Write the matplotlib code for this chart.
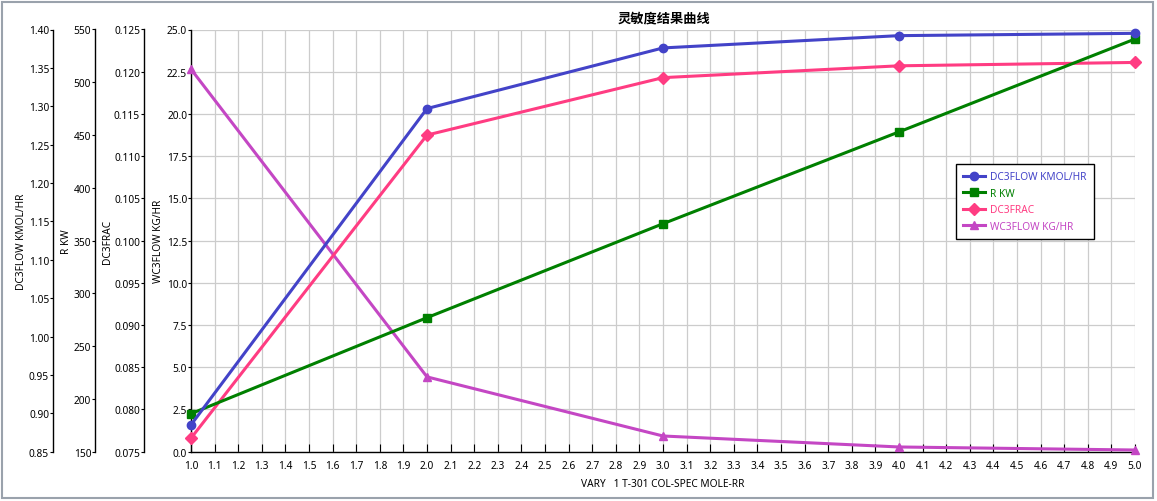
import matplotlib
matplotlib.use("Agg")
import matplotlib.pyplot as plt
import numpy as np
from matplotlib.patches import Rectangle

plt.rcParams['font.family'] = ['Noto Sans', 'Noto Sans CJK SC', 'DejaVu Sans']

# ---- data ----
x_vals = [1.0, 2.0, 3.0, 4.0, 5.0]
dc3flow = [0.885, 1.297, 1.376, 1.392, 1.395]      # KMOL/HR
r_kw = [186, 277, 366, 453, 541]                    # KW
dc3frac = [0.0766, 0.1125, 0.1193, 0.1207, 0.1211]
wc3flow = [22.65, 4.43, 0.93, 0.28, 0.10]           # KG/HR

title = "灵敏度结果曲线"
xlabel = "VARY   1 T-301 COL-SPEC MOLE-RR"
labels = ["DC3FLOW KMOL/HR", "R KW", "DC3FRAC", "WC3FLOW KG/HR"]
colors = ["#4343C8", "#008000", "#FF3C82", "#C447C4"]
markers = ["o", "s", "D", "^"]

W, H = 1157, 502
fig = plt.figure(figsize=(W / 100, H / 100), dpi=100)
fig.patch.set_facecolor("white")

left_px, right_px, top_px, bot_px = 191, 1135, 30.5, 452.7
rect = [left_px / W, 1 - bot_px / H, (right_px - left_px) / W, (bot_px - top_px) / H]
ax = fig.add_axes(rect)
span = right_px - left_px

fs = 7.3
tick_len, tick_pad = 2.2, 0.6
# main axis: WC3FLOW
ax.set_xlim(1.0, 5.0)
ax.set_ylim(0, 25)
ax.set_xticks(np.round(np.arange(1.0, 5.01, 0.1), 1))
ax.set_xticklabels([f"{v:.1f}" for v in np.arange(1.0, 5.01, 0.1)], fontsize=fs)
ax.set_yticks(np.arange(0, 25.01, 2.5))
ax.set_yticklabels([f"{v:.1f}" for v in np.arange(0, 25.01, 2.5)], fontsize=fs)
ax.grid(True, color="#CCCCCC", linewidth=0.9)
ax.set_axisbelow(True)
ax.tick_params(axis="x", direction="in", length=6, width=0.8, pad=6)
ax.tick_params(axis="y", direction="out", length=tick_len, width=0.8, pad=tick_pad)
for s in ["top", "right"]:
    ax.spines[s].set_visible(False)
for s in ["left", "bottom"]:
    ax.spines[s].set_linewidth(1.0)
ax.set_ylabel(labels[3], fontsize=fs)
ax.yaxis.set_label_coords((164 - left_px) / span, 0.5)
ax.set_xlabel(xlabel, fontsize=fs, labelpad=5)

def make_twin(pos, ylim, ticks, fmt, label, label_px):
    t = ax.twinx()
    t.set_ylim(*ylim)
    t.yaxis.set_ticks_position("left")
    t.yaxis.set_label_position("left")
    for s in ["top", "right", "bottom"]:
        t.spines[s].set_visible(False)
    t.spines["left"].set_visible(True)
    t.spines["left"].set_position(("axes", pos))
    t.spines["left"].set_linewidth(1.0)
    t.set_yticks(ticks)
    t.set_yticklabels([fmt.format(v) for v in ticks], fontsize=fs)
    t.tick_params(axis="y", direction="out", length=tick_len, width=0.8, pad=tick_pad)
    t.set_ylabel(label, fontsize=fs)
    t.yaxis.set_label_coords((label_px - left_px) / span, 0.5)
    t.patch.set_visible(False)
    return t

ax_frac = make_twin((144 - left_px) / span, (0.075, 0.125), np.arange(0.075, 0.12501, 0.005), "{:.3f}", labels[2], 113)
ax_rkw = make_twin((95 - left_px) / span, (150, 550), np.arange(150, 551, 50), "{:.0f}", labels[1], 72)
ax_flow = make_twin((53 - left_px) / span, (0.85, 1.40), np.arange(0.85, 1.4001, 0.05), "{:.2f}", labels[0], 27)

lw = 2.2
h1, = ax_flow.plot(x_vals, dc3flow, color=colors[0], marker=markers[0], markersize=6, lw=lw, clip_on=False, zorder=5)
h2, = ax_rkw.plot(x_vals, r_kw, color=colors[1], marker=markers[1], markersize=6, lw=lw, clip_on=False, zorder=5)
h3, = ax_frac.plot(x_vals, dc3frac, color=colors[2], marker=markers[2], markersize=6, lw=lw, clip_on=False, zorder=5)
h4, = ax.plot(x_vals, wc3flow, color=colors[3], marker=markers[3], markersize=6, lw=lw, clip_on=False, zorder=5)

leg = fig.legend([h1, h2, h3, h4], labels, loc="upper left",
                 bbox_to_anchor=(956 / W, 1 - 165 / H), fontsize=fs,
                 frameon=True, fancybox=False, edgecolor="black", framealpha=1,
                 borderpad=0.7, handlelength=2.2, labelspacing=0.55, handletextpad=0.5,
                 borderaxespad=0)
leg.get_frame().set_linewidth(1.0)
for txt, c in zip(leg.get_texts(), colors):
    txt.set_color(c)

fig.text((left_px + 1137) / 2 / W, 1 - 18 / H, title, ha="center", va="center",
         fontsize=9.5, fontweight="bold", family=["Noto Sans CJK SC", "DejaVu Sans"])

fig.patches.append(Rectangle((2 / W, 3 / H), 1151 / W, 496 / H, transform=fig.transFigure,
                             fill=False, edgecolor="#9AA2AC", linewidth=1.5))

fig.savefig("out.png", dpi=100)
